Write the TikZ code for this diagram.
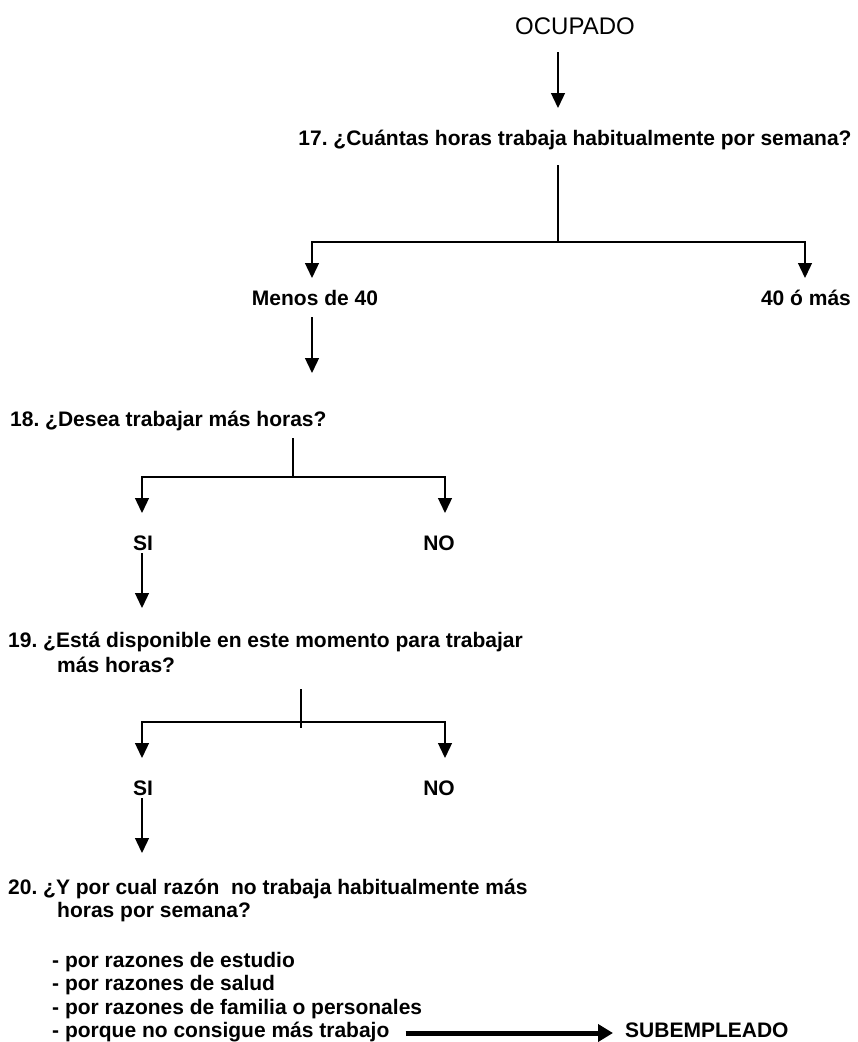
\documentclass[tikz,border=0pt]{standalone}
\usepackage{fontspec}
\setmainfont{Liberation Sans}
\usetikzlibrary{arrows.meta}
\tikzset{lbl/.style = {font = \bfseries\fontsize{21}{25}\selectfont , inner sep = 0pt}}
\tikzset{qst/.style = {lbl , anchor = base west}}
\tikzset{conn/.style = {line width = 1.3pt}}
\tikzset{arr/.style = {conn , -{Triangle[width = 14pt , length = 15pt]}}}
\tikzset{bigarr/.style = {line width = 5pt , -{Triangle[width = 17pt , length = 15pt]}}}
\frenchspacing

\begin{document}
\begin{tikzpicture}[x = 1pt , y = -1pt]

  \useasboundingbox (0 , 0) rectangle (858 , 1042);

  \node [inner sep = 0pt , font = \fontsize{24}{28}\selectfont] (ocupado) at (575 , 26) {OCUPADO};
  \node [lbl , anchor = base] (q17) at (575 , 145) {17. ¿Cuántas horas trabaja habitualmente por semana?};

  \coordinate (o1) at (558 , 52);
  \coordinate (o2) at (558 , 108);
  \draw [arr] (o1) -- (o2);

  \coordinate (q17s) at (558 , 165);
  \coordinate (q17b) at (558 , 242);
  \coordinate (q17l) at (312 , 278);
  \coordinate (q17r) at (805 , 278);
  \draw [conn] (q17s) -- (q17b);
  \draw [arr] (q17b) -| (q17l);
  \draw [arr] (q17b) -| (q17r);

  \node [lbl , anchor = base] (menos) at (315 , 305) {Menos de 40};
  \node [lbl , anchor = base] (mas40) at (806 , 305) {40 ó más};

  \coordinate (m1) at (312 , 317);
  \coordinate (m2) at (312 , 373);
  \draw [arr] (m1) -- (m2);

  % pregunta 18
  \node [qst] (q18) at (10 , 426) {18. ¿Desea trabajar más horas?};

  \coordinate (q18s) at (293 , 438);
  \coordinate (q18b) at (293 , 477);
  \coordinate (q18l) at (142 , 513);
  \coordinate (q18r) at (445 , 513);
  \draw [conn] (q18s) -- (q18b);
  \draw [arr] (q18b) -| (q18l);
  \draw [arr] (q18b) -| (q18r);

  \node [lbl , anchor = base] (si18) at (143 , 550) {SI};
  \node [lbl , anchor = base] (no18) at (439 , 550) {NO};

  \coordinate (s1) at (142 , 553);
  \coordinate (s2) at (142 , 608);
  \draw [arr] (s1) -- (s2);

  % pregunta 19
  \node [qst] (q19) at (8 , 647) {19. ¿Está disponible en este momento para trabajar};
  \node [qst] (q19b) at (57 , 672) {más horas?};

  \coordinate (q19s) at (301 , 689);
  \coordinate (q19e) at (301 , 728);
  \coordinate (q19m) at (301 , 722);
  \coordinate (q19l) at (142 , 758);
  \coordinate (q19r) at (445 , 758);
  \draw [conn] (q19s) -- (q19e);
  \draw [arr] (q19m) -| (q19l);
  \draw [arr] (q19m) -| (q19r);

  \node [lbl , anchor = base] (si19) at (143 , 795) {SI};
  \node [lbl , anchor = base] (no19) at (439 , 795) {NO};

  \coordinate (t1) at (142 , 798);
  \coordinate (t2) at (142 , 853);
  \draw [arr] (t1) -- (t2);

  % pregunta 20
  \node [qst] (q20) at (8 , 894) {20. ¿Y por cual razón\ \ no trabaja habitualmente más};
  \node [qst] (q20b) at (57 , 917) {horas por semana?};

  \node [qst] (r1) at (52 , 967) {- por razones de estudio};
  \node [qst] (r2) at (52 , 990) {- por razones de salud};
  \node [qst] (r3) at (52 , 1014) {- por razones de familia o personales};
  \node [qst] (r4) at (52 , 1037) {- porque no consigue más trabajo};

  \node [qst] (sub) at (625 , 1037) {SUBEMPLEADO};
  \draw [bigarr] ([xshift = 16pt , yshift = 4pt] r4.base east) -- ([xshift = -12pt , yshift = 4pt] sub.base west);

\end{tikzpicture}
\end{document}
